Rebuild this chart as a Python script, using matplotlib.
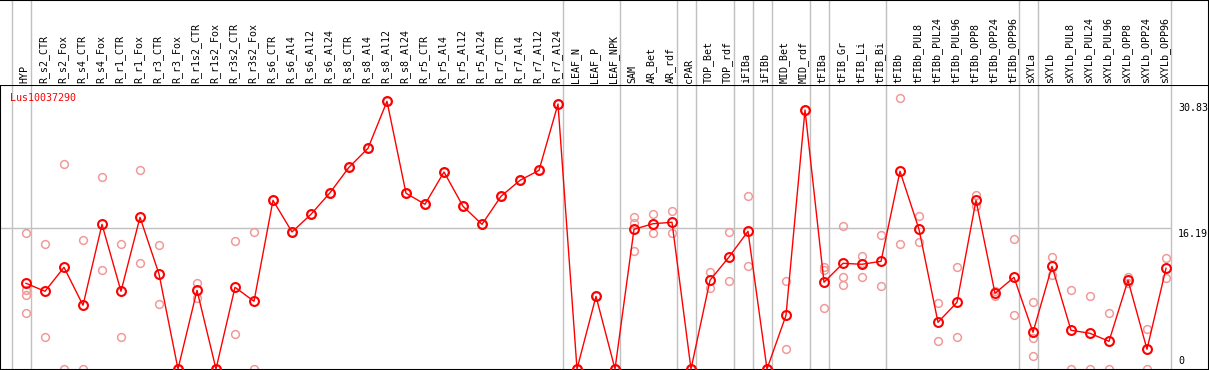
import matplotlib
matplotlib.use("Agg")
import matplotlib.pyplot as plt
import numpy as np

# sample names along the top
samples = ["HYP", "R_s2_CTR", "R_s2_Fox", "R_s4_CTR", "R_s4_Fox", "R_r1_CTR", "R_r1_Fox",
           "R_r3_CTR", "R_r3_Fox", "R_r1s2_CTR", "R_r1s2_Fox", "R_r3s2_CTR", "R_r3s2_Fox",
           "R_s6_CTR", "R_s6_Al4", "R_s6_Al12", "R_s6_Al24", "R_s8_CTR", "R_s8_Al4", "R_s8_Al12",
           "R_s8_Al24", "R_r5_CTR", "R_r5_Al4", "R_r5_Al12", "R_r5_Al24", "R_r7_CTR", "R_r7_Al4",
           "R_r7_Al12", "R_r7_Al24", "LEAF_N", "LEAF_P", "LEAF_NPK", "SAM", "AR_Bet", "AR_rdf",
           "cPAR", "TOP_Bet", "TOP_rdf", "iFIBa", "iFIBb", "MID_Bet", "MID_rdf", "tFIBa",
           "tFIB_Gr", "tFIB_Li", "tFIB_Bi", "tFIBb", "tFIBb_PUL8", "tFIBb_PUL24", "tFIBb_PUL96",
           "tFIBb_OPP8", "tFIBb_OPP24", "tFIBb_OPP96", "sXYLa", "sXYLb", "sXYLb_PUL8",
           "sXYLb_PUL24", "sXYLb_PUL96", "sXYLb_OPP8", "sXYLb_OPP24", "sXYLb_OPP96"]

# mean expression per sample
means = [9.87, 8.95, 11.71, 7.34, 16.66, 8.95, 17.47, 10.94, 0.0, 9.06, 0.0, 9.41, 7.80,
         19.43, 15.78, 17.82, 20.30, 23.23, 25.42, 30.83, 20.24, 18.97, 22.69, 18.74, 16.66,
         19.89, 21.73, 22.88, 30.52, 0.0, 8.37, 0.0, 16.09, 16.73, 16.90, 0.0, 10.22, 12.90,
         15.86, 0.0, 6.18, 29.83, 9.99, 12.17, 12.06, 12.40, 22.77, 16.09, 5.38, 7.68, 19.43,
         8.72, 10.56, 4.23, 11.83, 4.46, 4.11, 3.19, 10.22, 2.27, 11.60]

# individual replicates
replicates = [
    [15.63, 9.10, 8.49, 6.41], [14.36, 3.65], [23.58, 0.0], [14.82, 0.0], [22.08, 11.37],
    [14.36, 3.65], [22.88, 12.17], [14.25, 7.45], [0.0, 0.0], [9.87, 8.14], [0.0, 0.0],
    [14.71, 4.00], [15.74, 0.0],
    [19.43], [15.78], [17.82], [20.30], [23.23], [25.42], [30.83], [20.24], [18.97], [22.69],
    [18.74], [16.66], [19.89], [21.73], [22.88], [30.52], [0.0], [8.37], [0.0],
    [17.54, 16.78, 13.59], [17.85, 15.66], [18.20, 15.66], [0.0], [11.17, 9.36],
    [15.74, 10.13], [19.89, 11.83], [0.0], [10.10, 2.27], [29.83],
    [11.78, 11.37, 7.03], [16.47, 10.56, 9.64], [13.01, 12.17, 10.56], [15.43, 9.52],
    [31.21, 14.36], [17.59, 14.59], [7.57, 3.19], [11.71, 3.65], [20.00, 18.74],
    [8.95, 8.37], [14.94, 6.18], [7.68, 3.54, 1.46], [12.86, 10.79], [9.06, 0.0],
    [8.37, 0.0], [6.41, 0.0], [10.63, 9.94], [4.57, 0.0], [12.75, 10.45]]

# group boundaries (separator drawn after these sample indices)
group_ends = [-1, 0, 28, 31, 34, 35, 37, 38, 39, 41, 42, 45, 52, 53, 60]
gene = "Lus10037290"
ref_values = [30.83, 16.19, 0]

W, H = 1209, 370
top_h = 85
x = np.arange(len(samples))
xlim = (-26 / 19, (W - 26) / 19)
scale = 8.683  # px per unit

fig = plt.figure(figsize=(W / 100, H / 100), dpi=100)
ax = fig.add_axes([0, 0, 1, (H - top_h) / H])
axl = fig.add_axes([0, (H - top_h) / H, 1, top_h / H])

ax.set_xlim(xlim)
ax.set_ylim(-1 / scale, (369 - top_h) / scale)
axl.set_xlim(xlim)
axl.set_ylim(0, top_h)

grid_c = "#c0c0c0"
for g in group_ends:
    ax.axvline(g + 0.24, color=grid_c, lw=1, zorder=1)
    axl.axvline(g + 0.24, color=grid_c, lw=1, zorder=1)
ax.axhline(16.19, xmin=0, xmax=1170 / W, color=grid_c, lw=1, zorder=1)

# replicate circles
for i, reps in enumerate(replicates):
    ax.plot([i] * len(reps), reps, linestyle="none", marker="o", ms=5.6,
            mfc="none", mec="#f09a9a", mew=1.1, zorder=2)

ax.plot(x, means, color="red", lw=1.0, zorder=3)
ax.plot(x, means, linestyle="none", marker="o", ms=6.4, mfc="none",
        mec="red", mew=1.5, zorder=4)

mono = "DejaVu Sans Mono"
for i, s in enumerate(samples):
    axl.text(i - 0.08, 2, s, rotation=90, ha="center", va="bottom",
             fontsize=7.2, family=mono, color="black")

fig.text(10 / W, (H - 98) / H, gene, color="red", fontsize=7.2, family=mono,
         ha="left", va="center")

xr = (1178 - 26) / 19
ax.text(xr, ref_values[0] - 0.2, "30.83", ha="left", va="top", fontsize=7.2, family=mono)
ax.text(xr, ref_values[1] - 0.05, "16.19", ha="left", va="top", fontsize=7.2, family=mono)
ax.text(xr, 0.3, "0", ha="left", va="bottom", fontsize=7.2, family=mono)

for a in (ax, axl):
    a.set_xticks([])
    a.set_yticks([])
    for sp in a.spines.values():
        sp.set_color("black")
        sp.set_linewidth(1.5)
axl.spines["left"].set_visible(False)
axl.spines["bottom"].set_visible(False)

fig.savefig("out.png", dpi=100)
